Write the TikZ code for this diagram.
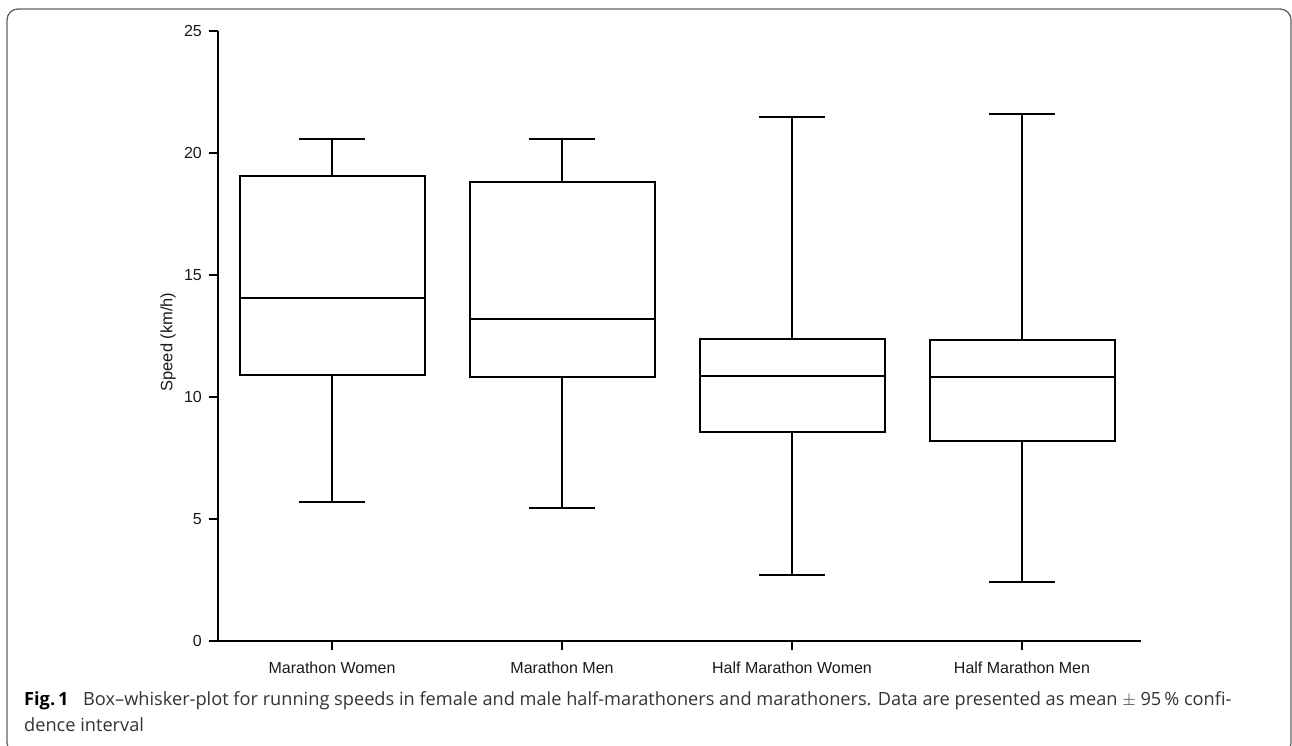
\documentclass[tikz,border=0pt]{standalone}
\usepackage{fontspec}
\setmainfont{Liberation Sans}
\newfontfamily\capfont{Open Sans}
\begin{document}
\begin{tikzpicture}[x=1pt,y=-1pt,
  declare function={Y(\v)=641-24.4*\v;},
  axisline/.style={line width=2.6pt, black},
  boxline/.style={line width=2pt, black},
  frameline/.style={line width=1.3pt, black!62},
  ticklabel/.style={font=\fontsize{16}{16}\selectfont, inner sep=0pt, text=black!90},
  catlabel/.style={font=\fontsize{16}{16}\selectfont, inner sep=0pt, anchor=base, text=black!90},
  captext/.style={font=\capfont\fontsize{18.2}{20}\selectfont, inner sep=0pt, anchor=base west, text=black!80}]
\useasboundingbox (0,0) rectangle (1292,746);
\clip (0,0) rectangle (1292,746);
% frame
\draw[frameline, rounded corners=11pt] (7,9) rectangle (1291,754);
% boxes
\foreach \cx/\lo/\qa/\md/\qb/\hi in {332/5.68/10.90/14.07/19.07/20.57,
                                      562/5.46/10.82/13.20/18.80/20.56,
                                      792/2.69/8.57/10.85/12.36/21.46,
                                      1022/2.42/8.20/10.82/12.34/21.59}{
  \draw[boxline] (\cx-92.5,{Y(\qa)}) rectangle (\cx+92.5,{Y(\qb)});
  \draw[boxline] (\cx-92.5,{Y(\md)}) -- (\cx+92.5,{Y(\md)});
  \draw[boxline] (\cx,{Y(\qb)}) -- (\cx,{Y(\hi)});
  \draw[boxline] (\cx-33,{Y(\hi)}) -- (\cx+33,{Y(\hi)});
  \draw[boxline] (\cx,{Y(\qa)}) -- (\cx,{Y(\lo)});
  \draw[boxline] (\cx-33,{Y(\lo)}) -- (\cx+33,{Y(\lo)});
}
% axes
\draw[axisline] (218,{Y(25)}) -- (218,641) -- (1141,641);
\foreach \v in {0,5,...,25}{
  \draw[axisline] (209,{Y(\v)}) -- (218,{Y(\v)});
  \node[ticklabel, anchor=east] (t\v) at (202,{Y(\v)}) {\v};
}
\foreach \cx in {332,562,792,1022}{
  \draw[axisline] (\cx,641) -- (\cx,649.5);
}
\node[catlabel] (c1) at (332,673) {Marathon Women};
\node[catlabel] (c2) at (562,673) {Marathon Men};
\node[catlabel] (c3) at (792,673) {Half Marathon Women};
\node[catlabel] (c4) at (1022,673) {Half Marathon Men};
\node[ticklabel, rotate=90, font=\fontsize{16.5}{16.5}\selectfont] (ylab) at (168,342) {Speed (km/h)};
% caption
\node[captext] (cap1) at (24,705) {{\bfseries\color{black}Fig.\,1}\hspace{0.8em}Box–whisker-plot for running speeds in female and male half-marathoners and marathoners. Data are presented as mean $\pm$ 95\,\% confi-};
\node[captext] (cap2) at (24,731) {dence interval};
\end{tikzpicture}
\end{document}
